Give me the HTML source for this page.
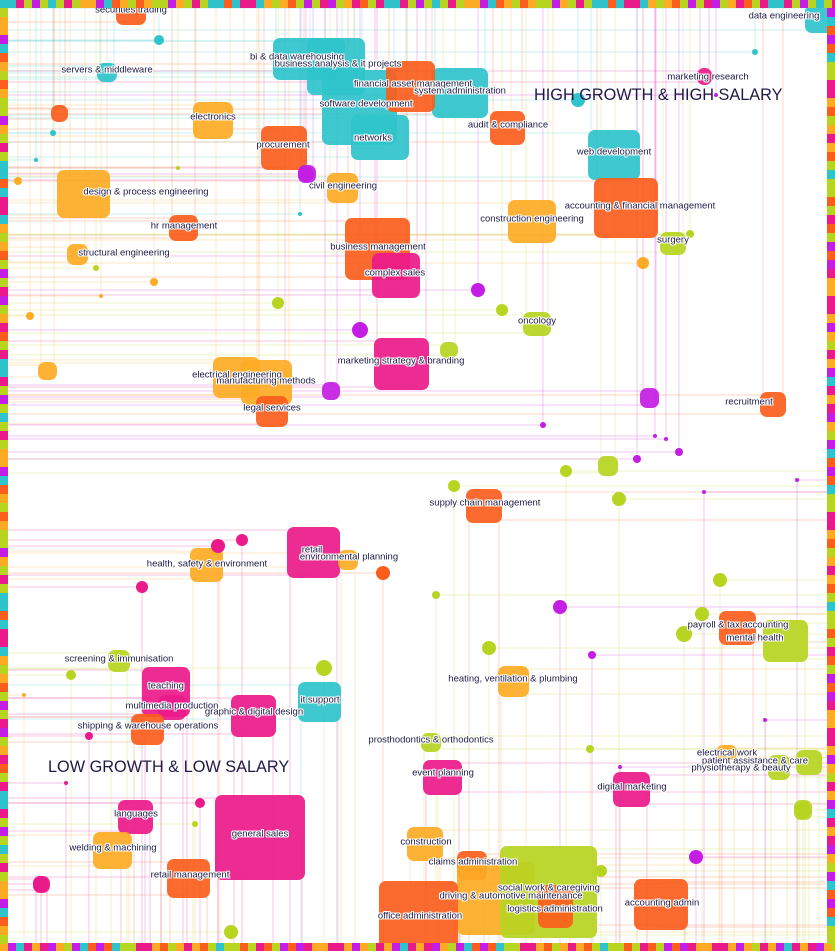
<!DOCTYPE html>
<html><head><meta charset="utf-8">
<style>
html,body{margin:0;padding:0;background:#fff;}
#c{position:relative;width:835px;height:951px;overflow:hidden;background:#fff;font-family:"Liberation Sans",sans-serif;}
.n{position:absolute;border-radius:7px;}
.l{position:absolute;transform:translate(-50%,-50%);white-space:nowrap;font-size:9.5px;color:#1c1b45;
text-shadow:1px 0 0 #fff,-1px 0 0 #fff,0 1px 0 #fff,0 -1px 0 #fff,1px 1px 0 #fff,-1px -1px 0 #fff,1px -1px 0 #fff,-1px 1px 0 #fff;z-index:5;}
.big{position:absolute;font-size:16.3px;color:#1c1b45;white-space:nowrap;z-index:5;}
svg{position:absolute;left:0;top:0;}
</style></head><body>
<div id="c">
<svg id="lines" width="835" height="951"></svg>
<div id="shapes"></div>
<svg id="border" width="835" height="951" style="z-index:6"></svg>

<div class="big" style="left:534px;top:86px;">HIGH GROWTH &amp; HIGH SALARY</div>
<div class="big" style="left:48px;top:758px;">LOW GROWTH &amp; LOW SALARY</div>

<div class="l" style="left:131px;top:10px">securities trading</div>
<div class="l" style="left:107px;top:70px">servers &amp; middleware</div>
<div class="l" style="left:213px;top:117px">electronics</div>
<div class="l" style="left:297px;top:57px">bi &amp; data warehousing</div>
<div class="l" style="left:338px;top:64px">business analysis &amp; it projects</div>
<div class="l" style="left:413px;top:84px">financial asset management</div>
<div class="l" style="left:460px;top:91px">system administration</div>
<div class="l" style="left:366px;top:104px">software development</div>
<div class="l" style="left:373px;top:138px">networks</div>
<div class="l" style="left:283px;top:145px">procurement</div>
<div class="l" style="left:343px;top:186px">civil engineering</div>
<div class="l" style="left:146px;top:192px">design &amp; process engineering</div>
<div class="l" style="left:184px;top:226px">hr management</div>
<div class="l" style="left:124px;top:253px">structural engineering</div>
<div class="l" style="left:378px;top:247px">business management</div>
<div class="l" style="left:395px;top:273px">complex sales</div>
<div class="l" style="left:508px;top:125px">audit &amp; compliance</div>
<div class="l" style="left:614px;top:152px">web development</div>
<div class="l" style="left:640px;top:206px">accounting &amp; financial management</div>
<div class="l" style="left:532px;top:219px">construction engineering</div>
<div class="l" style="left:673px;top:240px">surgery</div>
<div class="l" style="left:784px;top:16px">data engineering</div>
<div class="l" style="left:708px;top:77px">marketing research</div>
<div class="l" style="left:537px;top:321px">oncology</div>
<div class="l" style="left:401px;top:361px">marketing strategy &amp; branding</div>
<div class="l" style="left:237px;top:375px">electrical engineering</div>
<div class="l" style="left:266px;top:381px">manufacturing methods</div>
<div class="l" style="left:272px;top:408px">legal services</div>
<div class="l" style="left:749px;top:402px">recruitment</div>
<div class="l" style="left:485px;top:503px">supply chain management</div>
<div class="l" style="left:312px;top:550px">retail</div>
<div class="l" style="left:349px;top:557px">environmental planning</div>
<div class="l" style="left:207px;top:564px">health, safety &amp; environment</div>
<div class="l" style="left:738px;top:625px">payroll &amp; tax accounting</div>
<div class="l" style="left:755px;top:638px">mental health</div>
<div class="l" style="left:119px;top:659px">screening &amp; immunisation</div>
<div class="l" style="left:166px;top:686px">teaching</div>
<div class="l" style="left:172px;top:706px">multimedia production</div>
<div class="l" style="left:254px;top:712px">graphic &amp; digital design</div>
<div class="l" style="left:320px;top:700px">it support</div>
<div class="l" style="left:148px;top:726px">shipping &amp; warehouse operations</div>
<div class="l" style="left:513px;top:679px">heating, ventilation &amp; plumbing</div>
<div class="l" style="left:431px;top:740px">prosthodontics &amp; orthodontics</div>
<div class="l" style="left:443px;top:773px">event planning</div>
<div class="l" style="left:632px;top:787px">digital marketing</div>
<div class="l" style="left:727px;top:753px">electrical work</div>
<div class="l" style="left:755px;top:761px">patient assistance &amp; care</div>
<div class="l" style="left:741px;top:768px">physiotherapy &amp; beauty</div>
<div class="l" style="left:136px;top:814px">languages</div>
<div class="l" style="left:260px;top:834px">general sales</div>
<div class="l" style="left:113px;top:848px">welding &amp; machining</div>
<div class="l" style="left:190px;top:875px">retail management</div>
<div class="l" style="left:426px;top:842px">construction</div>
<div class="l" style="left:473px;top:862px">claims administration</div>
<div class="l" style="left:549px;top:888px">social work &amp; caregiving</div>
<div class="l" style="left:511px;top:896px">driving &amp; automotive maintenance</div>
<div class="l" style="left:555px;top:909px">logistics administration</div>
<div class="l" style="left:420px;top:916px">office administration</div>
<div class="l" style="left:662px;top:903px">accounting admin</div>
</div>
<script>
var C={o:"#fb5d1c",a:"#fdab25",c:"#2fc3cb",m:"#ea1a8a",l:"#b7d421",p:"#c41de3"};
var R=[
[116,0,146,25,"o"],[97,63,117,82,"c"],[51,105,68,122,"o"],[193,102,233,139,"a"],
[273,38,345,80,"c"],[307,38,365,95,"c"],[432,68,488,118,"c"],[322,70,397,145,"c"],
[386,61,435,112,"o"],[351,115,409,160,"c"],[261,126,307,170,"o"],[327,173,358,203,"a"],
[57,170,110,218,"a"],[169,215,198,241,"o"],[67,244,88,265,"a"],[345,218,410,280,"o"],
[372,253,420,298,"m"],[490,111,525,145,"o"],[588,130,640,180,"c"],[594,178,658,238,"o"],
[508,200,556,243,"a"],[660,232,686,255,"l"],[805,5,835,33,"c"],[697,68,712,85,"m"],
[523,312,551,336,"l"],[374,338,429,390,"m"],[440,342,458,358,"l"],[213,357,260,398,"a"],
[241,360,292,405,"a"],[256,396,288,427,"o"],[760,392,786,417,"o"],[38,362,57,380,"a"],
[466,489,502,523,"o"],[287,527,340,578,"m"],[338,550,358,570,"a"],[190,548,223,582,"a"],
[719,611,756,645,"o"],[763,620,808,662,"l"],[108,650,130,672,"l"],[142,667,190,717,"m"],
[158,695,186,720,"m"],[231,695,276,737,"m"],[298,682,341,722,"c"],[131,714,164,745,"o"],
[498,666,529,697,"a"],[421,733,441,752,"l"],[423,760,462,795,"m"],[613,772,650,807,"m"],
[716,745,737,760,"a"],[768,755,790,780,"l"],[796,750,822,775,"l"],[118,800,153,834,"m"],
[215,795,305,880,"m"],[93,832,132,869,"a"],[167,859,210,898,"o"],[407,827,443,861,"a"],
[457,851,487,880,"o"],[457,862,535,935,"a"],[500,846,597,938,"l"],[538,885,573,928,"o"],
[379,881,458,951,"o"],[634,879,688,930,"o"],[794,800,812,820,"l"],[33,876,50,893,"m"],
[598,456,618,476,"l"],[640,388,659,408,"p"],[322,382,340,400,"p"],[298,165,316,183,"p"]
];
var D=[[159,40,5,"c"],[306,174,8,"p"],[578,100,7,"c"],[18,181,4,"a"],[53,133,3,"c"],[36,160,2,"c"],
[278,303,6,"l"],[360,330,8,"p"],[478,290,7,"p"],[502,310,6,"l"],[643,263,6,"a"],[690,234,4,"l"],
[154,282,4,"a"],[101,296,2,"a"],[96,268,3,"l"],[30,316,4,"a"],[300,214,2,"c"],[178,168,2,"l"],
[755,52,3,"c"],[716,95,2,"p"],[543,425,3,"p"],[566,471,6,"l"],[637,459,4,"p"],[679,452,4,"p"],
[619,499,7,"l"],[454,486,6,"l"],[218,546,7,"m"],[242,540,6,"m"],[383,573,7,"o"],[142,587,6,"m"],
[560,607,7,"p"],[720,580,7,"l"],[684,634,8,"l"],[702,614,7,"l"],[592,655,4,"p"],[489,648,7,"l"],
[436,595,4,"l"],[324,668,8,"l"],[71,675,5,"l"],[89,736,4,"m"],[200,803,5,"m"],[195,824,3,"l"],
[41,884,8,"m"],[696,857,7,"p"],[601,871,6,"l"],[231,932,7,"l"],[590,749,4,"l"],[803,810,8,"l"],
[24,695,2,"a"],[66,783,2,"m"],[704,492,2,"p"],[797,480,2,"p"],[666,439,2,"p"],[655,436,2,"p"],
[765,720,2,"p"],[620,767,2,"p"]
];
var NS="http://www.w3.org/2000/svg",L=document.getElementById("lines"),S=document.getElementById("shapes");
function ln(x1,y1,x2,y2,col){var e=document.createElementNS(NS,"line");e.setAttribute("x1",x1);e.setAttribute("y1",y1);e.setAttribute("x2",x2);e.setAttribute("y2",y2);e.setAttribute("stroke",col);e.setAttribute("stroke-opacity","0.25");e.setAttribute("stroke-width","1");L.appendChild(e);}
function lines(cx,cy,x1,y1,x2,y2,col){
 var up=cy<470;
 var xs=cx<417||up?8:827;
 ln(xs,y1+3,cx,y1+3,col);ln(xs,y2-3,cx,y2-3,col);
 var ys=up?8:943;
 ln(x1+3,ys,x1+3,cy,col);ln(x2-3,ys,x2-3,cy,col);
}
R.forEach(function(r){var col=C[r[4]];lines((r[0]+r[2])/2,(r[1]+r[3])/2,r[0],r[1],r[2],r[3],col);
 var d=document.createElement("div");d.className="n";d.style.cssText="left:"+r[0]+"px;top:"+r[1]+"px;width:"+(r[2]-r[0])+"px;height:"+(r[3]-r[1])+"px;background:"+col+";opacity:0.92;";S.appendChild(d);});
D.forEach(function(p){var col=C[p[3]];var up=p[1]<470;ln(p[0]<417||up?8:827,p[1],p[0],p[1],col);ln(p[0],up?8:943,p[0],p[1],col);
 var d=document.createElement("div");d.className="n";d.style.cssText="left:"+(p[0]-p[2])+"px;top:"+(p[1]-p[2])+"px;width:"+(2*p[2])+"px;height:"+(2*p[2])+"px;border-radius:50%;background:"+col+";";S.appendChild(d);});
var B=document.getElementById("border"),seq=["m","l","a","c","p","o","l","m","a","l","c","p","o","m","l","a"],k=0;
function rect(x,y,w,h,col){var e=document.createElementNS(NS,"rect");e.setAttribute("x",x);e.setAttribute("y",y);e.setAttribute("width",w);e.setAttribute("height",h);e.setAttribute("fill",col);B.appendChild(e);}
function pick(){k=(k*7+3)%97;return C[seq[k%seq.length]];}
for(var x=0;x<835;x+=8){rect(x,0,8,8,pick());rect(x,943,8,8,pick());}
for(var y=8;y<943;y+=9){rect(0,y,8,9,pick());rect(827,y,8,9,pick());}
</script>
</body></html>
